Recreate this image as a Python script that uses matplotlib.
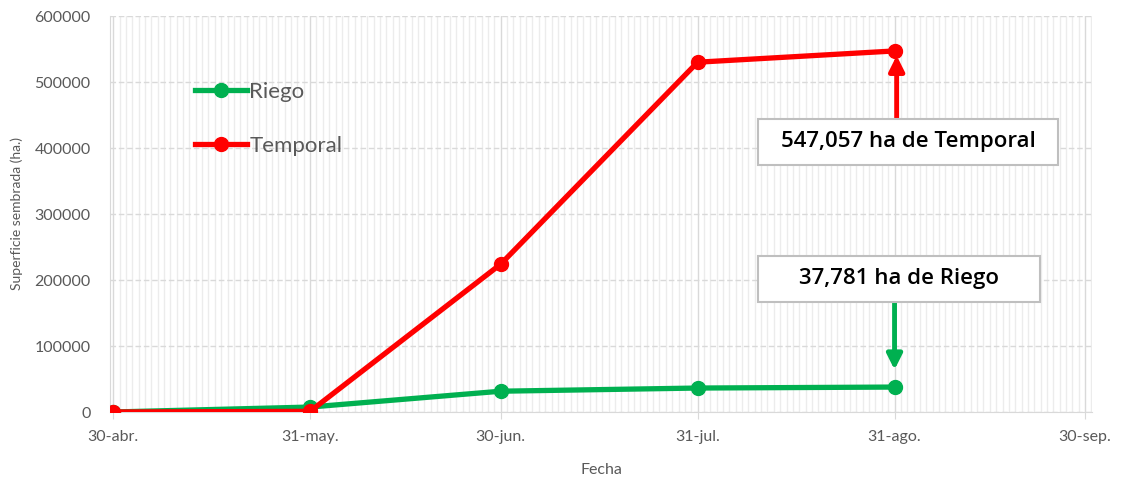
import pandas as pd
import matplotlib.pyplot as plt
import matplotlib.dates as mdates
from matplotlib.patches import Rectangle

fechas = pd.to_datetime(['2021-04-30', '2021-05-31', '2021-06-30', '2021-07-31', '2021-08-31'])
riego = [0, 7500, 31500, 36300, 37781]
temporal = [0, 1000, 224000, 530000, 547057]

tick_fechas = pd.to_datetime(['2021-04-30', '2021-05-31', '2021-06-30', '2021-07-31', '2021-08-31', '2021-09-30'])
tick_labels = ['30-abr.', '31-may.', '30-jun.', '31-jul.', '31-ago.', '30-sep.']

gris = '#595959'
plt.rcParams['font.family'] = ['Lato', 'DejaVu Sans']

fig = plt.figure(figsize=(11.21, 4.79), dpi=100)
ax = fig.add_axes([110 / 1121, 1 - 412 / 479, (1092 - 110) / 1121, (412 - 16) / 479])

ax.plot(fechas, riego, color='#00b050', lw=3.8, marker='o', ms=10, label='Riego', zorder=3)
ax.plot(fechas, temporal, color='#ff0000', lw=3.8, marker='o', ms=10, label='Temporal', zorder=4)

ax.set_xlim(pd.Timestamp('2021-04-29 12:00'), pd.Timestamp('2021-10-01 02:00'))
ax.set_ylim(0, 600000)
ax.set_yticks(range(0, 600001, 100000))
ax.set_xticks(tick_fechas)
ax.set_xticklabels(tick_labels)
ax.xaxis.set_minor_locator(mdates.DayLocator())

ax.grid(which='minor', axis='x', color='#ececec', lw=1)
ax.grid(which='major', axis='x', color='#d9d9d9', lw=1)
ax.grid(which='major', axis='y', color='#d9d9d9', lw=1, ls=(0, (4, 2)))
ax.set_axisbelow(True)

for s in ['top', 'right']:
    ax.spines[s].set_visible(False)
ax.spines['left'].set_color('#d9d9d9')
ax.spines['bottom'].set_color('#d9d9d9')
ax.tick_params(axis='y', length=0, labelsize=11.5, labelcolor=gris, pad=14)
ax.tick_params(axis='x', which='major', length=5, color='#d9d9d9', labelsize=11.5, labelcolor=gris, pad=8)
ax.tick_params(axis='x', which='minor', length=0)

ax.set_ylabel('Superficie sembrada (ha.)', fontsize=10, color=gris, labelpad=8)
ax.set_xlabel('Fecha', fontsize=11.5, color=gris, labelpad=14)

ax.legend(loc='upper left', bbox_to_anchor=(0.066, 0.885), frameon=False, fontsize=16,
          labelcolor=gris, handlelength=2.35, labelspacing=1.55, handletextpad=0.1)

# cuadros de texto
ax.add_patch(Rectangle((0.660, 0.624), 0.305, 0.116, transform=ax.transAxes,
                       fc='white', ec='#bfbfbf', lw=1.5, zorder=6))
ax.text(0.8126, 0.683, '547,057 ha de Temporal', transform=ax.transAxes, ha='center', va='center',
        fontsize=16, family=['Open Sans', 'DejaVu Sans'], fontweight='semibold', color='black', zorder=7)
ax.add_patch(Rectangle((0.660, 0.278), 0.287, 0.116, transform=ax.transAxes,
                       fc='white', ec='#bfbfbf', lw=1.5, zorder=6))
ax.text(0.8035, 0.337, '37,781 ha de Riego', transform=ax.transAxes, ha='center', va='center',
        fontsize=16, family=['Open Sans', 'DejaVu Sans'], fontweight='semibold', color='black', zorder=7)

# flechas
mezcla = ax.get_xaxis_transform()
ax.annotate('', xy=(pd.Timestamp('2021-08-31 08:00'), 540000), xytext=(pd.Timestamp('2021-08-31 08:00'), 0.740),
            textcoords=mezcla,
            arrowprops=dict(arrowstyle='-|>,head_width=0.45,head_length=0.9', color='#ff0000', lw=3.5,
                            shrinkA=0, shrinkB=0), zorder=5)
ax.annotate('', xy=(pd.Timestamp('2021-08-31'), 64000), xytext=(pd.Timestamp('2021-08-31'), 0.278),
            textcoords=mezcla,
            arrowprops=dict(arrowstyle='-|>,head_width=0.45,head_length=0.9', color='#00b050', lw=3.5,
                            shrinkA=0, shrinkB=0), zorder=5)

fig.savefig('out.png', dpi=100)
